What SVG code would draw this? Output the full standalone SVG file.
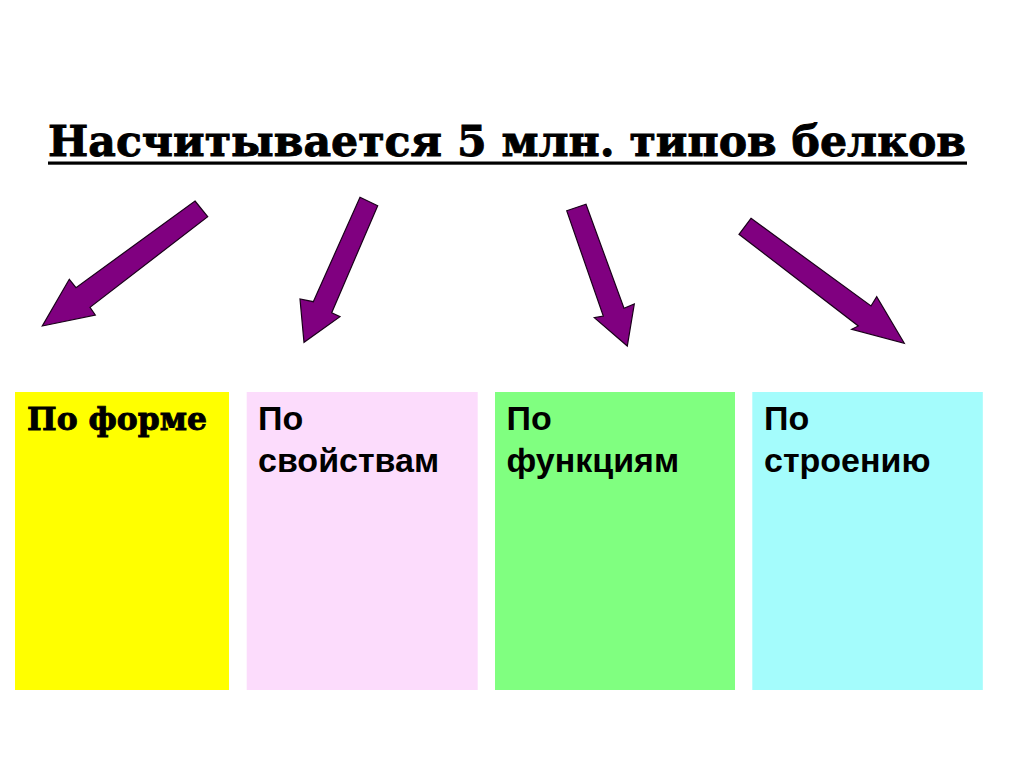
<svg xmlns="http://www.w3.org/2000/svg" width="1024" height="767" viewBox="0 0 1024 767">
<style>
.arrow{fill:#800080;stroke:#1a001a;stroke-width:1.2;stroke-linejoin:miter}
.lbl{font-family:"Liberation Sans",Arial,sans-serif;font-weight:bold;font-size:34px;fill:#000}
.ser{font-family:"DejaVu Serif","Liberation Serif",serif;font-weight:bold;fill:#000;stroke:#000;stroke-width:0.9}
</style>
<rect width="1024" height="767" fill="#fff"/>
<g id="title">
<text class="ser" x="48" y="156" font-size="43" textLength="918" lengthAdjust="spacingAndGlyphs">Насчитывается 5 млн. типов белков</text>
<rect x="48" y="161.5" width="919" height="3.2" fill="#000"/>
</g>
<g id="connectors">
<polygon class="arrow" points="195,201 207.7,216.7 90,307.3 95.3,315 42.3,326 69.3,279.3 76,287.7"/>
<polygon class="arrow" points="360,197.3 377.7,205.7 331.7,312.7 340,316.7 304,342.3 300,299 313.3,301.7"/>
<polygon class="arrow" points="566.7,210.7 586,204.3 624,308.3 634.3,304 627.3,346 594.3,317.7 603.3,316"/>
<polygon class="arrow" points="751,218.3 871,306 876.7,296.7 904.3,343.3 851.7,329.3 858.3,326 739,234.3"/>
</g>
<g id="box-forma">
<rect x="15" y="392" width="214" height="298" fill="#ffff00"/>
<text class="ser" x="27" y="430" font-size="31" textLength="180" lengthAdjust="spacingAndGlyphs">По форме</text>
</g>
<g id="box-svoistva">
<rect x="246.7" y="392" width="231" height="298" fill="#fcdcfc"/>
<text class="lbl" x="258" y="430">По</text>
<text class="lbl" x="258" y="471.5">свойствам</text>
</g>
<g id="box-funktsii">
<rect x="495" y="392" width="240" height="298" fill="#80ff80"/>
<text class="lbl" x="506.5" y="430">По</text>
<text class="lbl" x="506.5" y="471.5">функциям</text>
</g>
<g id="box-stroenie">
<rect x="752.3" y="392" width="230.5" height="298" fill="#a4fcfc"/>
<text class="lbl" x="764" y="430">По</text>
<text class="lbl" x="764" y="471.5">строению</text>
</g>
</svg>
